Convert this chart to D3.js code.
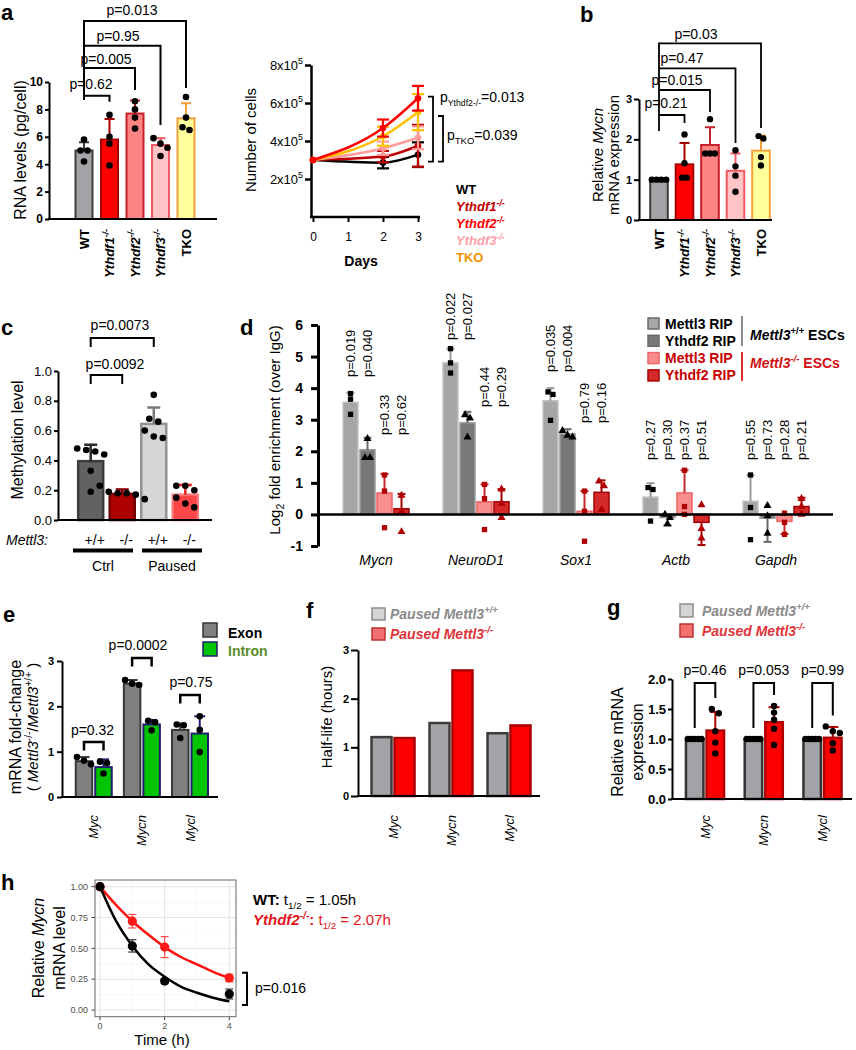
<!DOCTYPE html>
<html>
<head>
<meta charset="utf-8">
<script src="https://cdn.jsdelivr.net/npm/d3@7/dist/d3.min.js"></script>
<style>
  body { margin: 0; background: #fff; }
  svg { font-family: "Liberation Sans", Arial, Helvetica, sans-serif; display: block; }
</style>
</head>
<body>
<svg id="fig" width="856" height="1050"></svg>
<script>
// ================= DATA =================

// genotypes used in panel a and b
const genotypes = ["WT", "Ythdf1", "Ythdf2", "Ythdf3", "TKO"];

// a (left) - RNA levels (pg/cell)
const rnaMean = [5.0, 5.8, 7.7, 5.4, 7.35];
const rnaSD = [0.6, 1.5, 0.95, 0.5, 1.1];
const rnaPoints = [[5.8, 5.0, 5.0, 4.2], [7.6, 6.0, 5.5, 3.9], [8.6, 8.0, 7.4, 6.6], [5.9, 5.5, 5.2, 4.6], [8.9, 7.4, 6.7, 6.5]];
const rnaPvals = ["p=0.62", "p=0.005", "p=0.95", "p=0.013"];

// a (right) - number of cells, x10^5
const growthDays = [0, 2, 3];
const growthWT = [3.0, 2.86, 3.28];
const growthY1 = [3.0, 3.18, 3.75];
const growthY2 = [3.0, 4.68, 6.25];
const growthY3 = [3.0, 3.62, 4.17];
const growthTKO = [3.0, 4.25, 5.52];
const growthErrWT = [0, 0.3, 0.65];
const growthErrY1 = [0, 0.3, 1.1];
const growthErrY2 = [0, 0.45, 0.65];
const growthErrY3 = [0, 0.35, 0.6];
const growthErrTKO = [0, 0.5, 0.95];
const growthTicks = [2, 4, 6, 8];
const dayTicks = [0, 1, 2, 3];

// b - relative Mycn mRNA
const mycnMean = [1.0, 1.38, 1.86, 1.22, 1.72];
const mycnSD = [0, 0.53, 0.44, 0.43, 0.37];
const mycnPoints = [[1, 1, 1, 1], [2.12, 1.41, 1.05, 1.05], [2.5, 1.65, 1.65, 1.65], [1.73, 1.33, 1.1, 0.7], [2.08, 2.02, 1.56, 1.35]];
const mycnPvals = ["p=0.21", "p=0.015", "p=0.47", "p=0.03"];

// c - methylation level
const methGroups = ["Ctrl +/+", "Ctrl -/-", "Paused +/+", "Paused -/-"];
const methGenotypes = ["+/+", "-/-", "+/+", "-/-"];
const methConditions = ["Ctrl", "Paused"];
const methMean = [0.395, 0.175, 0.645, 0.17];
const methSD = [0.11, 0.03, 0.11, 0.065];
const methPoints = [[0.48, 0.47, 0.46, 0.44, 0.33, 0.19], [0.23, 0.19, 0.18, 0.18, 0.17, 0.14], [0.84, 0.68, 0.66, 0.6, 0.56, 0.55], [0.23, 0.23, 0.2, 0.15, 0.11, 0.085]];
const methPvals = ["p=0.0092", "p=0.0073"];

// d - RIP, log2 fold enrichment over IgG
const ripGenes = ["Mycn", "NeuroD1", "Sox1", "Actb", "Gapdh"];
const ripSeries = ["Mettl3 RIP", "Ythdf2 RIP", "Mettl3 RIP", "Ythdf2 RIP"];
const ripM3WT = [3.55, 4.8, 3.6, 0.55, 0.42];
const ripY2WT = [2.05, 2.9, 2.55, -0.1, -0.12];
const ripM3KO = [0.68, 0.4, 0.1, 0.68, -0.22];
const ripY2KO = [0.18, 0.4, 0.7, -0.25, 0.25];
const ripM3WTsd = [0.3, 0.45, 0.4, 0.44, 0.82];
const ripY2WTsd = [0.38, 0.35, 0.15, 0.25, 0.75];
const ripM3KOsd = [0.6, 0.55, 0.64, 0.72, 0.4];
const ripY2KOsd = [0.47, 0.4, 0.38, 0.72, 0.28];
const ripM3WTpts = [[3.83, 3.65, 3.17], [5.25, 4.8, 4.48], [3.88, 3.8, 2.98], [0.85, 0.79, -0.21], [1.25, 0.22, -0.8]];
const ripY2WTpts = [[2.4, 1.8, 1.8], [3.15, 3.05, 2.45], [2.65, 2.5, 2.45], [0.0, -0.1, -0.3], [0.28, -0.05, -0.6]];
const ripM3KOpts = [[1.25, 0.74, -0.42], [0.95, 0.5, -0.48], [0.74, 0.1, -0.85], [1.4, 0.25, 0.0], [0.04, -0.25, -0.63]];
const ripY2KOpts = [[0.6, 0.1, -0.55], [0.8, 0.35, -0.1], [1.05, 0.9, 0.15], [0.3, -0.45, -0.75], [0.5, 0.25, 0.0]];
const ripPvals = [
  ["p=0.019", "p=0.040", "p=0.33", "p=0.62"],
  ["p=0.022", "p=0.027", "p=0.44", "p=0.29"],
  ["p=0.035", "p=0.004", "p=0.79", "p=0.16"],
  ["p=0.27", "p=0.30", "p=0.37", "p=0.51"],
  ["p=0.55", "p=0.73", "p=0.28", "p=0.21"]
];

// e - exon / intron fold change
const mycGenes = ["Myc", "Mycn", "Mycl"];
const exonMean = [0.79, 2.5, 1.48];
const exonSD = [0.09, 0.08, 0.14];
const intronMean = [0.66, 1.6, 1.4];
const intronSD = [0.17, 0.1, 0.38];
const exonPoints = [[0.88, 0.8, 0.72], [2.58, 2.5, 2.47], [1.6, 1.58, 1.3]];
const intronPoints = [[0.78, 0.75, 0.52], [1.68, 1.65, 1.47], [1.78, 1.48, 0.99]];
const exonPvals = ["p=0.32", "p=0.0002", "p=0.75"];

// f - half-life (hours)
const halfWT = [1.21, 1.5, 1.29];
const halfKO = [1.19, 2.58, 1.45];

// g - relative mRNA expression
const relWT = [1.0, 1.0, 1.0];
const relKO = [1.14, 1.28, 1.02];
const relKOsd = [0.31, 0.25, 0.18];
const relWTpts = [[1, 1, 1, 1, 1], [1, 1, 1, 1, 1], [1, 1, 1, 1, 1]];
const relKOpts = [[1.5, 1.43, 1.13, 0.94, 0.76], [1.55, 1.44, 1.32, 1.17, 0.9], [1.21, 1.13, 1.1, 0.93, 0.81]];
const relPvals = ["p=0.46", "p=0.053", "p=0.99"];

// h - Mycn decay
const decayTimes = [0, 1, 2, 4];
const decayWT = [1.0, 0.52, 0.235, 0.13];
const decayWTse = [0, 0.05, 0.02, 0.04];
const decayKO = [1.0, 0.72, 0.51, 0.26];
const decayKOse = [0, 0.055, 0.085, 0.03];
const fitTimes = [0, 0.5, 1, 1.5, 2, 2.5, 3, 3.5, 4];
const fitWT = [1.0, 0.72, 0.52, 0.37, 0.27, 0.19, 0.14, 0.10, 0.07];
const fitKO = [1.0, 0.85, 0.72, 0.61, 0.51, 0.43, 0.37, 0.31, 0.26];
const decayXTicks = [0, 2, 4];
const decayYTicks = [0, 0.25, 0.5, 0.75, 1];

// ================= HELPERS =================
const svg = d3.select("#fig");
svg.append("rect").attr("width", 856).attr("height", 1050).attr("fill", "#fff");

function rich(t, parts, fs) {
  let shift = 0;
  parts.forEach(p => {
    if (typeof p === "string") p = { t: p };
    const ts = t.append("tspan").text(p.t);
    const target = p.sup ? -fs * 0.4 : p.sub ? fs * 0.25 : 0;
    if (p.sup || p.sub) ts.attr("font-size", fs * (p.k || 0.68));
    if (target !== shift) ts.attr("dy", target - shift);
    shift = target;
    if (p.i) ts.attr("font-style", "italic");
    if (p.b) ts.attr("font-weight", "bold");
    if (p.fill) ts.attr("fill", p.fill);
  });
}

function label(x, y, s, o = {}) {
  const fs = o.fs || 14;
  const t = svg.append("text")
    .attr("x", x).attr("y", y)
    .attr("font-size", fs)
    .attr("fill", o.fill || "#000")
    .attr("text-anchor", o.anchor || "start");
  if (o.b) t.attr("font-weight", "bold");
  if (o.i) t.attr("font-style", "italic");
  if (o.rot) t.attr("transform", `rotate(${o.rot},${x},${y})`);
  if (Array.isArray(s)) rich(t, s, fs); else t.text(s);
  return t;
}

function seg(x1, y1, x2, y2, col = "#000", w = 2) {
  return svg.append("line").attr("x1", x1).attr("y1", y1).attr("x2", x2).attr("y2", y2)
    .attr("stroke", col).attr("stroke-width", w);
}

function poly(pts, col = "#000", w = 2) {
  return svg.append("path").attr("d", d3.line()(pts)).attr("fill", "none")
    .attr("stroke", col).attr("stroke-width", w);
}

function yAxis(scale, x, ticks, o = {}) {
  const ax = d3.axisLeft(scale).tickValues(ticks)
    .tickFormat(o.fmt || (d => d))
    .tickSize(o.ts == null ? 5 : o.ts).tickSizeOuter(0)
    .tickPadding(o.pad == null ? 3 : o.pad);
  const g = svg.append("g").attr("transform", `translate(${x},0)`).call(ax)
    .attr("font-family", null).attr("font-size", o.fs || 13);
  g.select(".domain").attr("stroke", "#000").attr("stroke-width", o.sw || 2);
  g.selectAll(".tick line").attr("stroke", "#000").attr("stroke-width", o.sw || 2);
  g.selectAll(".tick text").attr("fill", "#000").attr("font-weight", o.b ? "bold" : "normal");
  return g;
}

// spread points with near-equal values side by side
function swarm(vals, y, thr, spread) {
  const idx = vals.map((v, i) => ({ i, py: y(v) })).sort((a, b) => a.py - b.py);
  const clusters = [];
  idx.forEach(p => {
    const c = clusters[clusters.length - 1];
    if (c && p.py - c[c.length - 1].py < thr) c.push(p); else clusters.push([p]);
  });
  const off = new Array(vals.length).fill(0);
  clusters.forEach(c => c.forEach((p, j) => { off[p.i] = (j - (c.length - 1) / 2) * spread; }));
  return off;
}

function drawBars(cx, w, vals, y, fills, strokes, sw) {
  svg.append("g").selectAll("rect").data(vals).join("rect")
    .attr("x", (d, i) => cx[i] - w / 2)
    .attr("y", d => Math.min(y(d), y(0)))
    .attr("width", w)
    .attr("height", d => Math.abs(y(0) - y(d)))
    .attr("fill", (d, i) => fills[i])
    .attr("stroke", (d, i) => strokes[i])
    .attr("stroke-width", sw);
}

function drawErr(cx, vals, sd, y, cols, cap, sw) {
  vals.forEach((v, i) => {
    if (!sd[i]) return;
    const top = v + (v < 0 ? -sd[i] : sd[i]);
    seg(cx[i], y(v), cx[i], y(top), cols[i], sw);
    seg(cx[i] - cap / 2, y(top), cx[i] + cap / 2, y(top), cols[i], sw);
  });
}

function drawDots(cx, pts, y, r, spread, col = "#000") {
  pts.forEach((arr, i) => {
    const off = swarm(arr, y, r * 2, spread);
    svg.append("g").selectAll("circle").data(arr).join("circle")
      .attr("cx", (d, j) => cx[i] + off[j]).attr("cy", d => y(d))
      .attr("r", r).attr("fill", col);
  });
}

const genoText = g => (g === "WT" || g === "TKO") ? [g] : [{ t: g, i: true }, { t: "-/-", sup: true, i: true }];
const genoFill = ["#a3a3a7", "#ff0000", "#ff8484", "#ffc4c6", "#ffff9c"];
const genoStroke = ["#3c3c3c", "#a30000", "#c8202a", "#f05a62", "#f5a13a"];

function letter(s, x, y) { label(x, y, s, { fs: 22, b: true }); }

// ================= PANEL a (bars) =================
letter("a", 1, 20);
{
  const x = d3.scalePoint().domain(genotypes).range([84, 186]);
  const y = d3.scaleLinear().domain([0, 10]).range([219, 82]);
  const cx = genotypes.map(g => x(g));
  drawBars(cx, 17, rnaMean, y, genoFill, genoStroke, 2);
  drawErr(cx, rnaMean, rnaSD, y, genoStroke, 10, 2);
  drawDots(cx, rnaPoints, y, 3.3, 7);
  yAxis(y, 49, d3.range(0, 11, 2), { b: true, fs: 12, ts: 4, pad: 2 });
  seg(48, 219, 217, 219);
  genotypes.forEach((g, i) => label(cx[i] + 4.5, 229, genoText(g), { rot: -90, anchor: "end", b: true, fs: 13 }));
  label(25.6, 150, "RNA levels  (pg/cell)", { rot: -90, anchor: "middle", fs: 16 });
  const lv = [95.7, 68, 45.7, 21], leg = [101.7, 90, 125, 88], tx = [91, 106, 118, 132], ty = [89, 64, 41, 15];
  rnaPvals.forEach((p, i) => {
    poly([[cx[0], lv[i]], [cx[i + 1], lv[i]], [cx[i + 1], leg[i]]]);
    label(tx[i], ty[i], p, { anchor: "middle", fs: 14 });
  });
  seg(cx[0], 20, cx[0], 100);
}

// ================= PANEL a (growth) =================
{
  const x = d3.scaleLinear().domain([0, 3]).range([313, 418]);
  const y = d3.scaleLinear().domain([0, 8]).range([217, 65]);
  yAxis(y, 311, growthTicks, { fmt: () => "", sw: 2.5, ts: 6 });
  growthTicks.forEach(t => label(303, y(t) + 4.5, [`${t}x10`, { t: "5", sup: true }], { anchor: "end", fs: 13 }));
  const xa = svg.append("g").attr("transform", "translate(0,217)")
    .call(d3.axisBottom(x).tickValues(dayTicks).tickFormat(d3.format("d")).tickSize(5).tickSizeOuter(0).tickPadding(10))
    .attr("font-family", null).attr("font-size", 12);
  xa.select(".domain").remove();
  xa.selectAll(".tick line").attr("stroke", "#000").attr("stroke-width", 2);
  xa.selectAll(".tick text").attr("fill", "#000");
  seg(310, 217, 420, 217, "#000", 2.5);
  label(361, 266, "Days", { anchor: "middle", b: true, fs: 14 });
  label(256, 140, "Number of cells", { rot: -90, anchor: "middle", fs: 15 });

  const series = [
    { v: growthWT, e: growthErrWT, c: "#000000" },
    { v: growthY1, e: growthErrY1, c: "#c00000" },
    { v: growthY3, e: growthErrY3, c: "#ff9b9b" },
    { v: growthTKO, e: growthErrTKO, c: "#ffc000" },
    { v: growthY2, e: growthErrY2, c: "#ff0000" }
  ];
  const line = d3.line().x((d, i) => x(growthDays[i])).y(d => y(d)).curve(d3.curveMonotoneX);
  series.forEach(s => {
    svg.append("path").attr("d", line(s.v)).attr("fill", "none").attr("stroke", s.c).attr("stroke-width", 2.5);
    s.v.forEach((v, i) => {
      if (!s.e[i]) return;
      const px = x(growthDays[i]);
      seg(px, y(v - s.e[i]), px, y(v + s.e[i]), s.c, 2.2);
      seg(px - 6, y(v + s.e[i]), px + 6, y(v + s.e[i]), s.c, 2.2);
      seg(px - 6, y(v - s.e[i]), px + 6, y(v - s.e[i]), s.c, 2.2);
    });
    svg.append("g").selectAll("circle").data(s.v).join("circle")
      .attr("cx", (d, i) => x(growthDays[i])).attr("cy", d => y(d)).attr("r", 3.3).attr("fill", s.c);
  });
  poly([[428, 96.7], [433, 96.7], [433, 161.7], [428, 161.7]], "#000", 1.8);
  poly([[438, 116], [443, 116], [443, 161.7], [438, 161.7]], "#000", 1.8);
  label(440, 102, ["p", { t: "Ythdf2-/-", sub: true, k: 0.62 }, "=0.013"], { fs: 14 });
  label(447, 140, ["p", { t: "TKO", sub: true, k: 0.68 }, "=0.039"], { fs: 14 });
  const legCols = ["#000000", "#c00000", "#ff0000", "#ffa0a8", "#f39200"];
  genotypes.forEach((g, i) => label(456, 193.5 + 17.2 * i, genoText(g), { b: true, fs: 13, fill: legCols[i] }));
}

// ================= PANEL b =================
letter("b", 580, 22);
{
  const x = d3.scalePoint().domain(genotypes).range([659, 761]);
  const y = d3.scaleLinear().domain([0, 3]).range([220, 99]);
  const cx = genotypes.map(g => x(g));
  drawBars(cx, 17.6, mycnMean, y, genoFill, genoStroke, 2);
  drawErr(cx, mycnMean, mycnSD, y, genoStroke, 10, 2);
  drawDots(cx, mycnPoints, y, 3.2, 4.8);
  yAxis(y, 639, [0, 1, 2, 3], { b: true, fs: 11, ts: 5, pad: 2 });
  seg(638, 220, 772, 220);
  genotypes.forEach((g, i) => label(cx[i] + 4.5, 229, genoText(g), { rot: -90, anchor: "end", b: true, fs: 13 }));
  label(603, 155, ["Relative ", { t: "Mycn", i: true }], { rot: -90, anchor: "middle", fs: 15 });
  label(619, 155, "mRNA expression", { rot: -90, anchor: "middle", fs: 15 });
  const lv = [115, 90, 68.3, 43.3], leg = [123, 112, 143, 128], tx = [666, 677, 682, 696], ty = [108, 85, 63, 39];
  mycnPvals.forEach((p, i) => {
    poly([[cx[0], lv[i]], [cx[i + 1], lv[i]], [cx[i + 1], leg[i]]], "#000", 1.8);
    label(tx[i], ty[i], p, { anchor: "middle", fs: 14 });
  });
  seg(cx[0], 42.4, cx[0], 131, "#000", 1.8);
}

// ================= PANEL c =================
letter("c", 1, 335);
{
  const x = d3.scalePoint().domain(methGroups).range([90.7, 185.3]);
  const y = d3.scaleLinear().domain([0, 1]).range([520, 371]);
  const cx = methGroups.map(g => x(g));
  drawBars(cx, 25, methMean, y, ["#626262", "#ad0000", "#d6d6d6", "#ff4545"], ["#3c3c3c", "#700000", "#939393", "#ff7676"], 2.5);
  drawErr(cx, methMean, methSD, y, ["#2a2a2a", "#8a0000", "#7a7a7a", "#e82020"], 13, 2.5);
  drawDots(cx, methPoints, y, 3.3, 9);
  yAxis(y, 58, [0, 0.2, 0.4, 0.6, 0.8, 1.0], { fmt: d3.format(".1f"), fs: 13, ts: 4, pad: 2 });
  seg(57, 520, 212, 520);
  label(22.6, 440, "Methylation level", { rot: -90, anchor: "middle", fs: 16 });
  label(6, 545, "Mettl3:", { i: true, fs: 14 });
  methGenotypes.forEach((s, i) => label(cx[i] + 4, 545, s, { anchor: "middle", fs: 14 }));
  const condX = [103, 172];
  methConditions.forEach((s, i) => {
    svg.append("rect").attr("x", condX[i] - 30).attr("y", 548.5).attr("width", 60).attr("height", 4).attr("fill", "#000");
    label(condX[i], 571, s, { anchor: "middle", fs: 14 });
  });
  poly([[cx[0], 384], [cx[0], 375], [cx[1], 375], [cx[1], 384]]);
  label(115, 369, methPvals[0], { anchor: "middle", fs: 14 });
  poly([[cx[0], 347], [cx[0], 338], [cx[2], 338], [cx[2], 347]]);
  label(120, 330, methPvals[1], { anchor: "middle", fs: 14 });
}

// ================= PANEL d =================
letter("d", 240, 335);
{
  const x = d3.scalePoint().domain(ripGenes).range([376, 776]);
  const sub = d3.scalePoint().domain([0, 1, 2, 3]).range([-25.5, 25.5]);
  const y = d3.scaleLinear().domain([-1, 6]).range([546, 325]);
  const series = [
    { v: ripM3WT, e: ripM3WTsd, p: ripM3WTpts, fill: "#a6a6a6", stroke: "#c2c2c2", err: "#9a9a9a", pc: "#000", sym: d3.symbolSquare },
    { v: ripY2WT, e: ripY2WTsd, p: ripY2WTpts, fill: "#787878", stroke: "#9a9a9a", err: "#6a6a6a", pc: "#000", sym: d3.symbolTriangle },
    { v: ripM3KO, e: ripM3KOsd, p: ripM3KOpts, fill: "#f78d8d", stroke: "#f06464", err: "#c62a2a", pc: "#b00000", sym: d3.symbolSquare },
    { v: ripY2KO, e: ripY2KOsd, p: ripY2KOpts, fill: "#d42a2a", stroke: "#a40000", err: "#a40000", pc: "#b00000", sym: d3.symbolTriangle }
  ];
  series.forEach((s, k) => {
    const cx = ripGenes.map(g => x(g) + sub(k));
    drawBars(cx, 15, s.v, y, cx.map(() => s.fill), cx.map(() => s.stroke), 1.5);
    drawErr(cx, s.v, s.e, y, cx.map(() => s.err), 8, 2);
    s.p.forEach((arr, i) => {
      const off = swarm(arr, y, 5.5, 5);
      svg.append("g").selectAll("path").data(arr).join("path")
        .attr("d", d3.symbol().type(s.sym).size(28))
        .attr("transform", (d, j) => `translate(${cx[i] + off[j]},${y(d)})`)
        .attr("fill", s.pc);
    });
  });
  seg(318, y(0), 833, y(0), "#000", 2.5);
  yAxis(y, 318, d3.range(-1, 7), { b: true, fs: 14, ts: 7, pad: 8, sw: 3 });
  ripGenes.forEach(g => label(x(g), 565, g, { anchor: "middle", i: true, fs: 14 }));
  label(280, 430, [{ t: "Log" }, { t: "2", sub: true, k: 0.7 }, " fold enrichment  (over IgG)"], { rot: -90, anchor: "middle", fs: 15 });
  const pBase = [[377, 377, 435, 435], [340, 340, 407, 407], [372, 372, 423, 423], [460, 460, 460, 460], [460, 460, 460, 460]];
  ripGenes.forEach((g, i) => ripPvals[i].forEach((p, k) => {
    label(x(g) + sub(k) + 4.6, pBase[i][k], p, { rot: -90, fs: 13 });
  }));
  // legend
  series.forEach((s, k) => {
    const cy = 323.5 + 17.3 * k;
    svg.append("rect").attr("x", 648).attr("y", cy - 5.5).attr("width", 11).attr("height", 11)
      .attr("fill", s.fill).attr("stroke", k < 2 ? "#6a6a6a" : s.stroke).attr("stroke-width", 1.5);
    label(665, cy + 5, ripSeries[k], { b: true, fs: 14, fill: k < 2 ? "#000" : "#c80000" });
  });
  seg(742, 316, 742, 346, "#8c8c8c", 2);
  seg(742, 352, 742, 381, "#e03030", 2);
  label(750, 340, [{ t: "Mettl3", i: true }, { t: "+/+", sup: true }, " ESCs"], { b: true, fs: 14 });
  label(750, 368, [{ t: "Mettl3", i: true }, { t: "-/-", sup: true, i: true }, " ESCs"], { b: true, fs: 14, fill: "#d01010" });
}

// ================= PANEL e =================
letter("e", 3, 622);
{
  const x = d3.scalePoint().domain(mycGenes).range([93.75, 190]);
  const y = d3.scaleLinear().domain([0, 3]).range([797, 661]);
  const exX = mycGenes.map(g => x(g) - 9.75), inX = mycGenes.map(g => x(g) + 9.75);
  drawBars(exX, 16.5, exonMean, y, exX.map(() => "#7f7f7f"), exX.map(() => "#383838"), 2);
  drawBars(inX, 16.5, intronMean, y, inX.map(() => "#00c400"), inX.map(() => "#1d1f6e"), 2);
  drawErr(exX, exonMean, exonSD, y, exX.map(() => "#333"), 11, 2);
  drawErr(inX, intronMean, intronSD, y, inX.map(() => "#1d1f6e"), 11, 2);
  drawDots(exX, exonPoints, y, 3.3, 7);
  drawDots(inX, intronPoints, y, 3.3, 7);
  yAxis(y, 62, [0, 1, 2, 3], { b: true, fs: 11, ts: 5, pad: 3 });
  seg(61, 797, 218, 797);
  mycGenes.forEach(g => label(x(g) + 4.5, 815, g, { rot: -90, anchor: "end", i: true, fs: 13 }));
  label(20.6, 727, "mRNA fold-change", { rot: -90, anchor: "middle", fs: 16 });
  label(38, 727, ["( ", { t: "Mettl3", i: true }, { t: "-/-", sup: true }, "/", { t: "Mettl3", i: true }, { t: "+/+", sup: true }, " )"], { rot: -90, anchor: "middle", fs: 15 });
  const lv = [742, 658, 695], ty = [735, 650, 687], tx = [92.5, 138, 191];
  exonPvals.forEach((p, i) => {
    poly([[exX[i], lv[i] + 8.5], [exX[i], lv[i]], [inX[i], lv[i]], [inX[i], lv[i] + 8.5]], "#000", 2.5);
    label(tx[i], ty[i], p, { anchor: "middle", fs: 14 });
  });
  svg.append("rect").attr("x", 203).attr("y", 623).attr("width", 14).attr("height", 14).attr("fill", "#7f7f7f").attr("stroke", "#333").attr("stroke-width", 1.5);
  svg.append("rect").attr("x", 203).attr("y", 642).attr("width", 14).attr("height", 14).attr("fill", "#00c400").attr("stroke", "#1d1f6e").attr("stroke-width", 1.5);
  label(228, 638, "Exon", { b: true, fs: 14 });
  label(228, 656, "Intron", { b: true, fs: 14, fill: "#5b8c2a" });
}

// ================= PANEL f =================
letter("f", 306, 618);
{
  const x = d3.scalePoint().domain(mycGenes).range([393, 509]);
  const y = d3.scaleLinear().domain([0, 3]).range([796, 650]);
  const wX = mycGenes.map(g => x(g) - 11.5), kX = mycGenes.map(g => x(g) + 11.5);
  drawBars(wX, 20, halfWT, y, wX.map(() => "#a3a3a7"), wX.map(() => "#3c3c3c"), 2.5);
  drawBars(kX, 20, halfKO, y, kX.map(() => "#ff0000"), kX.map(() => "#a80000"), 2.5);
  yAxis(y, 358, [0, 1, 2, 3], { b: true, fs: 11, ts: 7, pad: 2 });
  seg(357, 796, 540, 796);
  mycGenes.forEach(g => label(x(g) + 4.5, 815, g, { rot: -90, anchor: "end", i: true, fs: 13 }));
  label(332, 717, "Half-life (hours)", { rot: -90, anchor: "middle", fs: 15 });
  svg.append("rect").attr("x", 372).attr("y", 608).attr("width", 13).attr("height", 12).attr("fill", "#d4d4d4").attr("stroke", "#8c8c8c").attr("stroke-width", 1.5);
  svg.append("rect").attr("x", 372).attr("y", 628).attr("width", 13).attr("height", 12).attr("fill", "#f07070").attr("stroke", "#c03030").attr("stroke-width", 1.5);
  label(390, 619, ["Paused Mettl3", { t: "+/+", sup: true }], { b: true, i: true, fs: 14, fill: "#8a8a8a" });
  label(390, 639, ["Paused Mettl3", { t: "-/-", sup: true }], { b: true, i: true, fs: 14, fill: "#e0343a" });
}

// ================= PANEL g =================
letter("g", 607, 615);
{
  const x = d3.scalePoint().domain(mycGenes).range([705, 822.5]);
  const y = d3.scaleLinear().domain([0, 2]).range([799, 679]);
  const wX = mycGenes.map(g => x(g) - 10.3), kX = mycGenes.map(g => x(g) + 10.3);
  drawBars(wX, 17.5, relWT, y, wX.map(() => "#a3a3a7"), wX.map(() => "#333"), 2.5);
  drawBars(kX, 17.5, relKO, y, kX.map(() => "#ff0000"), kX.map(() => "#b00000"), 2.5);
  drawErr(kX, relKO, relKOsd, y, kX.map(() => "#b00000"), 11, 2);
  drawDots(wX, relWTpts, y, 3.2, 3.4);
  drawDots(kX, relKOpts, y, 3.2, 7);
  yAxis(y, 672, [0, 0.5, 1, 1.5, 2], { fmt: d3.format(".1f"), b: true, fs: 13, ts: 4, pad: 2 });
  seg(671, 799, 852, 799);
  mycGenes.forEach(g => label(x(g) + 4.5, 815, g, { rot: -90, anchor: "end", i: true, fs: 13 }));
  label(622.6, 742, "Relative mRNA", { rot: -90, anchor: "middle", fs: 16 });
  label(642.6, 742, "expression", { rot: -90, anchor: "middle", fs: 16 });
  relPvals.forEach((p, i) => {
    const rTop = Math.max(relKO[i] + relKOsd[i], d3.max(relKOpts[i]));
    const lTop = Math.max(relWT[i], d3.max(relWTpts[i]));
    poly([[wX[i], y(lTop) - 11], [wX[i], 683], [kX[i], 683], [kX[i], y(rTop) - 11]], "#000", 2);
    label(x(mycGenes[i]), 675, p, { anchor: "middle", fs: 14 });
  });
  svg.append("rect").attr("x", 680).attr("y", 604).attr("width", 13).attr("height", 13).attr("fill", "#d4d4d4").attr("stroke", "#8c8c8c").attr("stroke-width", 1.5);
  svg.append("rect").attr("x", 680).attr("y", 624).attr("width", 13).attr("height", 13).attr("fill", "#f07070").attr("stroke", "#c03030").attr("stroke-width", 1.5);
  label(702, 616, ["Paused Mettl3", { t: "+/+", sup: true }], { b: true, i: true, fs: 14, fill: "#8a8a8a" });
  label(702, 636, ["Paused Mettl3", { t: "-/-", sup: true }], { b: true, i: true, fs: 14, fill: "#e0343a" });
}

// ================= PANEL h =================
letter("h", 1, 890);
{
  const x = d3.scaleLinear().domain([-0.155, 4.207]).range([95, 236]);
  const y = d3.scaleLinear().domain([-0.054, 1.054]).range([1016.7, 880]);
  const [x0, x1] = x.range(), [y0, y1] = y.range();
  svg.append("rect").attr("x", x0).attr("y", y1).attr("width", x1 - x0).attr("height", y0 - y1).attr("fill", "#fff");
  [1, 3].forEach(t => seg(x(t), y1, x(t), y0, "#f2f2f2", 0.6));
  [0.125, 0.375, 0.625, 0.875].forEach(t => seg(x0, y(t), x1, y(t), "#f2f2f2", 0.6));
  decayXTicks.forEach(t => seg(x(t), y1, x(t), y0, "#e6e6e6", 1.1));
  decayYTicks.forEach(t => seg(x0, y(t), x1, y(t), "#e6e6e6", 1.1));
  decayYTicks.forEach(t => {
    seg(91.5, y(t), x0, y(t), "#444", 1);
    label(88, y(t) + 3.2, d3.format(".2f")(t), { anchor: "end", fs: 9, fill: "#4d4d4d" });
  });
  decayXTicks.forEach(t => {
    seg(x(t), y0, x(t), y0 + 3.5, "#444", 1);
    label(x(t), 1029, String(t), { anchor: "middle", fs: 9, fill: "#4d4d4d" });
  });
  const line = d3.line().x((d, i) => x(fitTimes[i])).y(d => y(d)).curve(d3.curveMonotoneX);
  svg.append("path").attr("d", line(fitKO)).attr("fill", "none").attr("stroke", "#ff1010").attr("stroke-width", 2.5);
  svg.append("path").attr("d", line(fitWT)).attr("fill", "none").attr("stroke", "#000").attr("stroke-width", 2.5);
  [[decayKO, decayKOse, "#ff1a1a", "#ff4a4a"], [decayWT, decayWTse, "#000", "#333"]].forEach(([v, se, c, ec]) => {
    v.forEach((d, i) => {
      if (!se[i]) return;
      const px = x(decayTimes[i]);
      seg(px, y(d - se[i]), px, y(d + se[i]), ec, 1.2);
      seg(px - 4, y(d - se[i]), px + 4, y(d - se[i]), ec, 1.2);
      seg(px - 4, y(d + se[i]), px + 4, y(d + se[i]), ec, 1.2);
    });
    svg.append("g").selectAll("circle").data(v).join("circle")
      .attr("cx", (d, i) => x(decayTimes[i])).attr("cy", d => y(d)).attr("r", 4.6).attr("fill", c);
  });
  svg.append("rect").attr("x", x0).attr("y", y1).attr("width", x1 - x0).attr("height", y0 - y1)
    .attr("fill", "none").attr("stroke", "#666").attr("stroke-width", 1);
  label(162, 1045, "Time (h)", { anchor: "middle", fs: 15 });
  label(43.6, 948, ["Relative ", { t: "Mycn", i: true }], { rot: -90, anchor: "middle", fs: 16 });
  label(64.6, 948, "mRNA level", { rot: -90, anchor: "middle", fs: 16 });
  poly([[242, 972.7], [247, 972.7], [247, 1005], [242, 1005]], "#000", 2);
  label(255, 993, "p=0.016", { fs: 14 });
  label(253, 905, [{ t: "WT:", b: true }, " t", { t: "1/2", sub: true, k: 0.65 }, " = 1.05h"], { fs: 15 });
  label(253, 925, [{ t: "Ythdf2", b: true, i: true }, { t: "-/-", sup: true, i: true, b: true }, { t: ":", b: true }, " t", { t: "1/2", sub: true, k: 0.65 }, " = 2.07h"], { fs: 15, fill: "#e3141b" });
}
</script>
</body>
</html>
